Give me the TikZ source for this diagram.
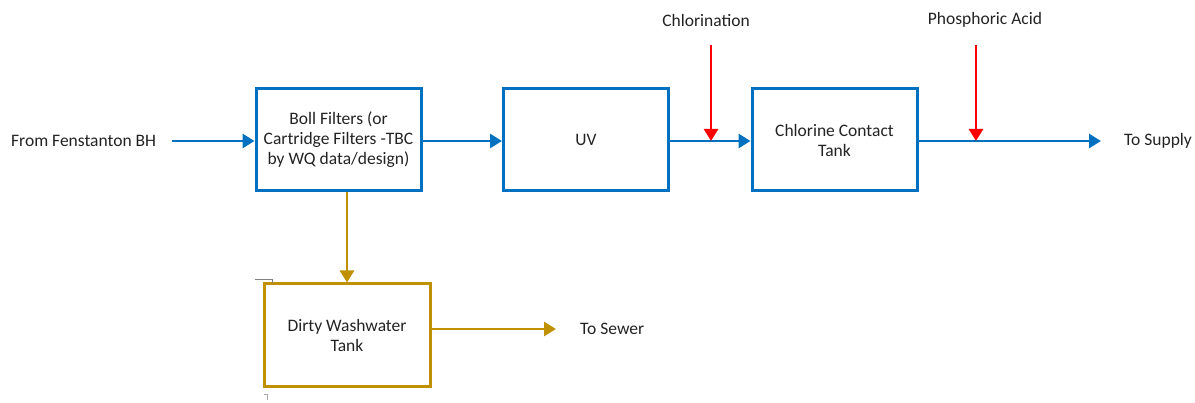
\documentclass[tikz,border=0pt]{standalone}
\usepackage{fontspec}
\setmainfont{Carlito}
\usetikzlibrary{arrows.meta}
\definecolor{flowblue}{RGB}{0,112,192}
\definecolor{wastegold}{RGB}{191,144,0}
\definecolor{dosered}{RGB}{255,0,0}
\definecolor{inkgray}{RGB}{35,35,35}
\tikzset{
  every node/.style={font=\fontsize{17.5}{20}\selectfont, text=inkgray},
  unitbox/.style={draw=flowblue, line width=3pt, minimum width=165pt, minimum height=102pt, align=center, inner sep=0pt},
  wastebox/.style={draw=wastegold, line width=3pt, minimum width=166pt, minimum height=103pt, align=center, inner sep=0pt},
  label/.style={inner sep=0pt},
  flow/.style={draw=flowblue, line width=2.8pt, -{Triangle[length=12pt,width=14pt]}},
  waste/.style={draw=wastegold, line width=2.8pt, -{Triangle[length=12pt,width=14pt]}},
  dose/.style={draw=dosered, line width=2.8pt, -{Triangle[length=12pt,width=14pt]}},
}
\begin{document}
\begin{tikzpicture}[x=1pt,y=-1pt]
  \useasboundingbox (0,0) rectangle (1195,403);

  % treatment units
  \node[unitbox] (boll) at (338.5,140) {Boll Filters (or\\Cartridge Filters -TBC\\by WQ data/design)};
  \node[unitbox] (uv) at (586,140) {UV};
  \node[unitbox] (cct) at (834.5,140) {Chlorine Contact\\Tank};
  \node[wastebox] (dwt) at (347,335.5) {Dirty Washwater\\Tank};

  % labels
  \node[label, anchor=west] (src) at (11,141) {From Fenstanton BH};
  \node[label, anchor=west] (sup) at (1124,141) {To Supply};
  \node[label, anchor=west] (sew) at (580,329) {To Sewer};
  \node[label] (chl) at (706,20) {Chlorination};
  \node[label] (pho) at (985,20) {Phosphoric Acid};

  % free ends and dosing points
  \coordinate (inlet) at (172,141);
  \coordinate (outlet) at (1101,141);
  \coordinate (sewer) at (556,329);
  \coordinate (clTop) at (711,45);
  \coordinate (clPt) at (711,141);
  \coordinate (paTop) at (976,45);
  \coordinate (paPt) at (976,141);

  % main flow
  \draw[flow] (inlet) -- (boll.west |- inlet);
  \draw[flow] (boll.east |- inlet) -- (uv.west |- inlet);
  \draw[flow] (uv.east |- inlet) -- (cct.west |- inlet);
  \draw[flow] (cct.east |- inlet) -- (outlet);

  % chemical dosing
  \draw[dose] (clTop) -- (clPt);
  \draw[dose] (paTop) -- (paPt);

  % backwash waste
  \draw[waste] (dwt.north |- boll.south) -- (dwt.north);
  \draw[waste] (dwt.east |- sewer) -- (sewer);

  % small editing marks by the tank
  \draw[gray, line width=0.8pt] (255,279) -- (272,279) -- (272,283);
  \draw[gray!70, line width=0.8pt] (264,394) -- (267,394) -- (267,400);
\end{tikzpicture}
\end{document}
